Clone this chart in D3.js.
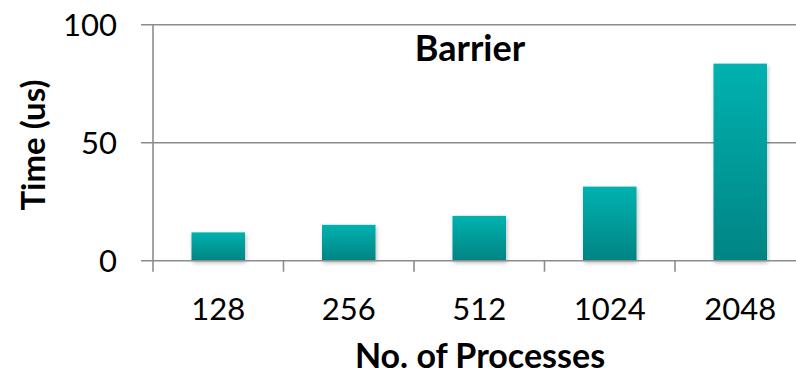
<!DOCTYPE html>
<html>
<head>
<meta charset="utf-8">
<script src="https://cdn.jsdelivr.net/npm/d3@7"></script>
<style>
  html, body { margin: 0; padding: 0; background: #fff; }
  svg { display: block; }
  text { font-family: Lato, "Open Sans", sans-serif; fill: #000; }
</style>
</head>
<body>
<svg id="chart" width="796" height="376"></svg>
<script>
// Barrier latency by process count
const categories = ["128", "256", "512", "1024", "2048"];
const times = [12, 15.2, 19, 31.4, 83.5];
const yTicks = [0, 50, 100];
const title = "Barrier";
const xTitle = "No. of Processes";
const yTitle = "Time (us)";

const svg = d3.select("#chart");
const plotLeft = 153, plotRight = 805.5, plotTop = 24.7, plotBottom = 260.7;

const x = d3.scaleBand()
  .domain(categories)
  .range([plotLeft, plotRight])
  .paddingInner(0.59)
  .paddingOuter(0.295);

const y = d3.scaleLinear().domain([0, 100]).range([plotBottom, plotTop]);

const defs = svg.append("defs");
const grad = defs.append("linearGradient")
  .attr("id", "barFill").attr("x1", 0).attr("y1", 0).attr("x2", 0).attr("y2", 1);
grad.append("stop").attr("offset", "0%").attr("stop-color", "#00b2b0");
grad.append("stop").attr("offset", "100%").attr("stop-color", "#008483");

const shadow = defs.append("filter").attr("id", "barShadow")
  .attr("x", "-30%").attr("y", "-10%").attr("width", "160%").attr("height", "130%");
shadow.append("feGaussianBlur").attr("in", "SourceAlpha").attr("stdDeviation", 2.2).attr("result", "blur");
shadow.append("feOffset").attr("in", "blur").attr("dx", 1).attr("dy", 2).attr("result", "off");
shadow.append("feComponentTransfer").attr("in", "off").attr("result", "soft")
  .append("feFuncA").attr("type", "linear").attr("slope", 0.28);
const merge = shadow.append("feMerge");
merge.append("feMergeNode").attr("in", "soft");
merge.append("feMergeNode").attr("in", "SourceGraphic");

const axisColor = "#8c8c8c";

// horizontal gridlines with left tick stubs
svg.append("g").selectAll("line").data(yTicks.filter(d => d > 0)).join("line")
  .attr("x1", plotLeft - 12).attr("x2", 796)
  .attr("y1", d => y(d)).attr("y2", d => y(d))
  .attr("stroke", axisColor).attr("stroke-width", 1.6);

// bars
svg.append("g").selectAll("rect").data(categories).join("rect")
  .attr("x", (d) => x(d))
  .attr("width", x.bandwidth())
  .attr("y", (d, i) => y(times[i]))
  .attr("height", (d, i) => y(0) - y(times[i]))
  .attr("fill", "url(#barFill)")
  .attr("filter", "url(#barShadow)");

// baseline and y-axis line
svg.append("line")
  .attr("x1", plotLeft - 12).attr("x2", 796)
  .attr("y1", y(0)).attr("y2", y(0))
  .attr("stroke", axisColor).attr("stroke-width", 1.6);
svg.append("line")
  .attr("x1", plotLeft).attr("x2", plotLeft)
  .attr("y1", y(100)).attr("y2", y(0) + 11)
  .attr("stroke", axisColor).attr("stroke-width", 1.6);

// category separator ticks
const step = x.step();
const bounds = categories.map(c => x(c) + x.bandwidth() / 2 + step / 2);
svg.append("g").selectAll("line").data(bounds).join("line")
  .attr("x1", d => d).attr("x2", d => d)
  .attr("y1", y(0)).attr("y2", y(0) + 11)
  .attr("stroke", axisColor).attr("stroke-width", 1.6);

// y tick labels
svg.append("g").selectAll("text").data(yTicks).join("text")
  .attr("x", 117).attr("y", d => y(d))
  .attr("dy", "0.36em")
  .attr("text-anchor", "end")
  .style("font-size", "31px")
  .text(d => d);

// x tick labels
svg.append("g").selectAll("text").data(categories).join("text")
  .attr("x", d => x(d) + x.bandwidth() / 2).attr("y", 320)
  .attr("text-anchor", "middle")
  .style("font-size", "31px")
  .text(d => d);

// titles
svg.append("text")
  .attr("x", 470).attr("y", 61)
  .attr("text-anchor", "middle")
  .style("font-size", "36px").style("font-weight", "bold")
  .text(title);

svg.append("text")
  .attr("x", 480).attr("y", 368)
  .attr("text-anchor", "middle")
  .style("font-size", "34px").style("font-weight", "bold")
  .text(xTitle);

svg.append("text")
  .attr("transform", "translate(45,145) rotate(-90)")
  .attr("text-anchor", "middle")
  .style("font-size", "33px").style("font-weight", "bold")
  .text(yTitle);
</script>
</body>
</html>
